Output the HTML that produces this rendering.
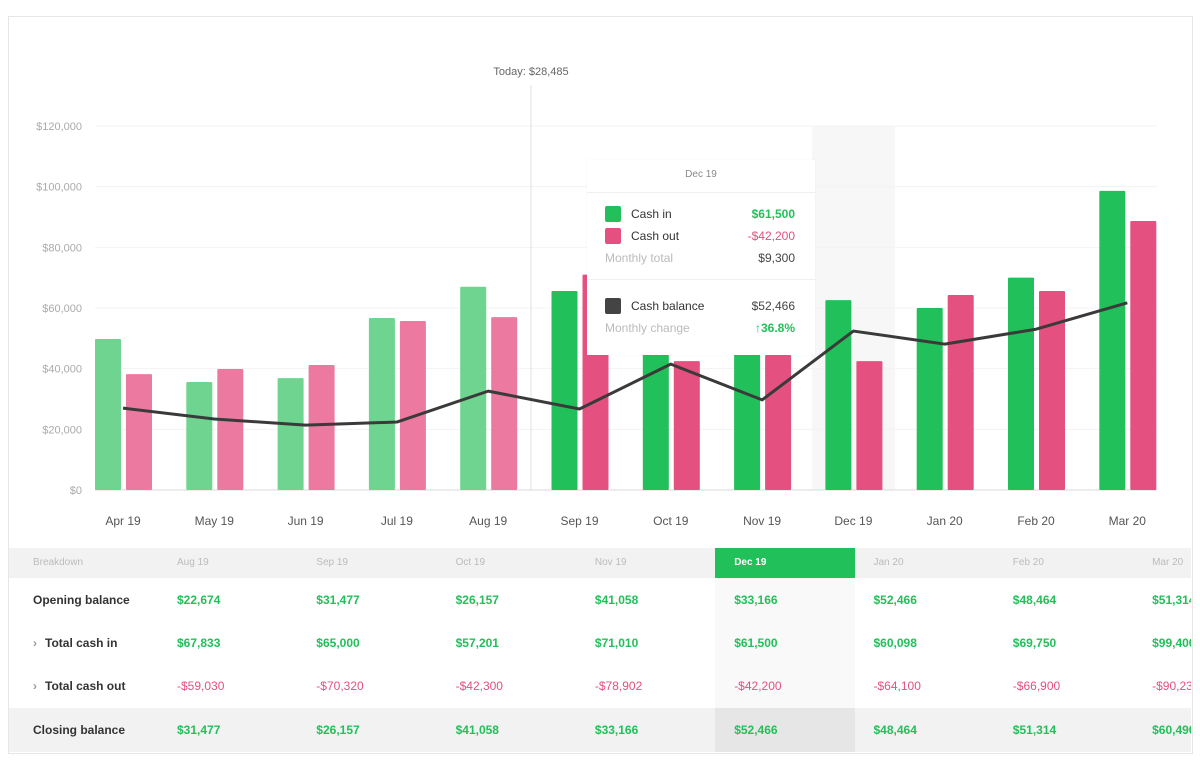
<!DOCTYPE html>
<html><head><meta charset="utf-8"><style>
html,body{margin:0;padding:0;background:#fff;width:1200px;height:783px;overflow:hidden;font-family:"Liberation Sans",sans-serif}
#frame{position:absolute;left:8px;top:16px;width:1183px;height:736px;border:1px solid #e6e6e6;overflow:hidden;background:#fff}
svg{position:absolute;left:0;top:0}
#tip{position:absolute;left:587px;top:160px;width:228px;height:195px;background:#fff;box-shadow:0 0 2px rgba(0,0,0,0.04);font-size:12px}
.tr{position:absolute;left:18px;right:20px;height:16px;line-height:16px}
.sw{position:absolute;left:0;top:0;width:16px;height:16px;border-radius:2px}
.lb{position:absolute;left:26px;color:#333}
.vl{position:absolute;right:0;font-weight:bold}
#tbl{position:absolute;left:9px;top:548px;width:1182px;height:204px;font-size:12px;overflow:hidden}
.row{position:absolute;left:0;width:1182px;border-bottom:1px solid #ececec}
.cell{position:absolute;top:0;white-space:nowrap}
</style></head><body>
<div id="frame"></div>
<svg id="chart" width="1200" height="545"></svg>
<div id="tip">
 <div style="position:absolute;top:9px;width:228px;text-align:center;color:#888;font-size:10px">Dec 19</div>
 <div style="position:absolute;top:32px;left:0;right:0;border-top:1px solid #f0f0f0"></div>
 <div class="tr" style="top:46px"><div class="sw" style="background:#22c05a"></div><span class="lb">Cash in</span><span class="vl" style="color:#22c05a">$61,500</span></div>
 <div class="tr" style="top:68px"><div class="sw" style="background:#e4507f"></div><span class="lb">Cash out</span><span class="vl" style="color:#e4507f;font-weight:normal">-$42,200</span></div>
 <div class="tr" style="top:90px"><span style="position:absolute;left:0;color:#bbb">Monthly total</span><span class="vl" style="color:#444;font-weight:normal">$9,300</span></div>
 <div style="position:absolute;top:119px;left:0;right:0;border-top:1px solid #f0f0f0"></div>
 <div class="tr" style="top:138px"><div class="sw" style="background:#444"></div><span class="lb">Cash balance</span><span class="vl" style="color:#444;font-weight:normal">$52,466</span></div>
 <div class="tr" style="top:160px"><span style="position:absolute;left:0;color:#bbb">Monthly change</span><span class="vl" style="color:#22c05a">↑36.8%</span></div>
</div>
<div id="tbl"></div>
<script>
const months=["Apr 19","May 19","Jun 19","Jul 19","Aug 19","Sep 19","Oct 19","Nov 19","Dec 19","Jan 20","Feb 20","Mar 20"];
const cashIn=[49.8,35.6,36.9,56.7,67,65.6,57.2,71,62.6,60,70,98.6];
const cashOut=[38.2,39.9,41.2,55.7,57,71,42.5,44.5,42.5,64.3,65.6,88.7];
const balance=[27,23.4,21.4,22.4,32.6,26.7,41.5,29.7,52.4,48.1,53,61.7];
const yTicks=[0,20,40,60,80,100,120];
const pastCount=5;
const NS="http://www.w3.org/2000/svg";
const svg=document.getElementById('chart');
const y=v=>490-v*(364/120);
const x=i=>123+i*91.3;
function mk(t,a){const e=document.createElementNS(NS,t);for(const k in a)e.setAttribute(k,a[k]);svg.appendChild(e);return e;}
let hl=mk('rect',{x:812,y:126,width:83,height:364,fill:'#f7f7f7'});


yTicks.forEach(t=>{
 let g=mk('line',{x1:95,x2:1157,y1:y(t),y2:y(t),stroke:t?'#f3f3f3':'#d8d8d8','stroke-width':1});
 
 
 let l=mk('text',{x:82,y:y(t)+4,'text-anchor':'end','font-size':11,fill:'#aaa'});
 l.textContent='$'+(t?t+',000':'0');
 
 
});
months.forEach((m,i)=>{
 const past=i<pastCount;
 let b1=mk('rect',{x:x(i)-28,y:y(cashIn[i]),width:26,height:490-y(cashIn[i]),fill:past?'#6fd48f':'#22c05a',rx:1});
 
 
 let b2=mk('rect',{x:x(i)+3,y:y(cashOut[i]),width:26,height:490-y(cashOut[i]),fill:past?'#ec7aa0':'#e4507f',rx:1});
 
 
 let l=mk('text',{x:x(i),y:525,'text-anchor':'middle','font-size':12,fill:'#555'});
 l.textContent=m;
 
 
});
let tl=mk('line',{x1:531,x2:531,y1:85,y2:490,stroke:'#e0e0e0','stroke-width':1});


let tt=mk('text',{x:531,y:75,'text-anchor':'middle','font-size':11,fill:'#666'});
tt.textContent='Today: $28,485';


let pl=mk('polyline',{points:balance.map((v,i)=>x(i)+','+y(v)).join(' '),fill:'none',stroke:'#3a3a3a','stroke-width':3,'stroke-linejoin':'round'});



const tMonths=["Aug 19","Sep 19","Oct 19","Nov 19","Dec 19","Jan 20","Feb 20","Mar 20"];
const opening=["$22,674","$31,477","$26,157","$41,058","$33,166","$52,466","$48,464","$51,314"];
const totIn=["$67,833","$65,000","$57,201","$71,010","$61,500","$60,098","$69,750","$99,400"];
const totOut=["-$59,030","-$70,320","-$42,300","-$78,902","-$42,200","-$64,100","-$66,900","-$90,235"];
const closing=["$31,477","$26,157","$41,058","$33,166","$52,466","$48,464","$51,314","$60,490"];
const tbl=document.getElementById('tbl');
const rows=[["Breakdown",tMonths,0,30,'#f2f2f2'],["Opening balance",opening,30,44,'#fff'],["Total cash in",totIn,74,43,'#fff'],["Total cash out",totOut,117,43,'#fff'],["Closing balance",closing,160,44,'#f2f2f2']];
rows.forEach((r,ri)=>{
 const d=document.createElement('div');d.className='row';
 d.style.top=r[2]+'px';d.style.height=r[3]+'px';d.style.lineHeight=r[3]+'px';d.style.background=r[4];
 
 
 const hdr=ri==0;
 let lab=document.createElement('div');lab.className='cell';
 lab.style.left=(ri==2||ri==3?24:24)+'px';
 lab.innerHTML=(ri==2||ri==3?'<span style="color:#999;margin-right:8px">›</span>':'')+r[0];
 lab.style.color=hdr?'#bbb':'#333';lab.style.fontWeight=hdr?'normal':'bold';lab.style.fontSize=hdr?'10px':'12px';
 d.appendChild(lab);
 r[1].forEach((v,i)=>{
  const cx=168+i*139.3;
  if(i==4){const h=document.createElement('div');h.className='cell';h.style.left='706px';h.style.width='140px';h.style.height='100%';
   h.style.background=hdr?'#22c05a':(ri==4?'#e6e6e6':'#f9f9f9');d.appendChild(h);}
  const c=document.createElement('div');c.className='cell';c.style.left=cx+'px';c.textContent=v;
  if(hdr){c.style.fontSize='10px';c.style.color=i==4?'#fff':'#bbb';if(i==4)c.style.fontWeight='bold';}
  else{c.style.fontWeight='bold';c.style.color=ri==3?'#e4507f':'#22c05a';if(ri==3)c.style.fontWeight='normal';}
  
  
  d.appendChild(c);
 });
 tbl.appendChild(d);
});
</script>
</body></html>
